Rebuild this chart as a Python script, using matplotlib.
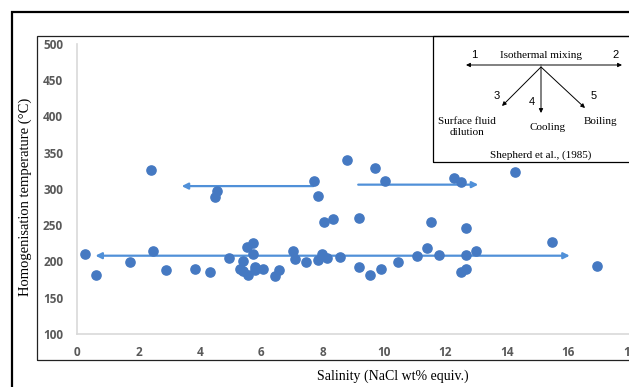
import matplotlib
matplotlib.use('Agg')
import matplotlib.pyplot as plt
from matplotlib.patches import Rectangle

# salinity (NaCl wt% equiv.) and homogenisation temperature (C)
salinity = [0.26, 0.62, 1.74, 2.40, 2.48, 2.90, 3.85, 4.34, 4.48, 4.57,
            4.96, 5.41, 5.32, 5.42, 5.56, 5.55, 5.72, 5.72, 5.80, 5.80,
            6.07, 6.45, 6.58, 7.03, 7.10, 7.45, 7.71, 7.85, 7.85, 7.99,
            8.14, 8.06, 8.35, 8.56, 8.80, 9.72, 10.03, 9.20, 9.20, 9.53,
            9.90, 10.47, 11.08, 11.39, 11.52, 11.80, 12.28, 12.50, 12.67, 12.67,
            12.50, 12.67, 13.01, 14.26, 15.47, 16.93]
temperature = [211, 182, 199, 326, 215, 188, 190, 186, 289, 297,
               205, 201, 190, 187, 181, 220, 225, 210, 193, 188,
               189, 180, 188, 215, 204, 199, 311, 290, 202, 211,
               205, 254, 258, 206, 340, 329, 311, 260, 192, 181,
               190, 199, 207, 218, 254, 209, 315, 310, 246, 209,
               186, 190, 214, 323, 227, 194]

# trend arrows: (x_start, x_end, y)
arrows = [(0.60, 16.05, 208), (7.70, 3.41, 304), (9.16, 13.07, 306)]

xticks = list(range(0, 19, 2))
yticks = list(range(100, 501, 50))

W, H = 629, 387
fig = plt.figure(figsize=(W / 100, H / 100), dpi=100)

# frames around the figure
fig.patches.append(Rectangle((12 / W, -0.1), 1.2, (H - 12) / H + 0.1, transform=fig.transFigure,
                             fill=False, lw=1.6, ec='black'))
fig.patches.append(Rectangle((37 / W, (H - 360) / H), 1.2, (360 - 36) / H, transform=fig.transFigure,
                             fill=False, lw=0.9, ec='#222222'))

ax = fig.add_axes([77 / W, (H - 334) / H, (629.6 - 77) / W, 290 / H])
ax.set_xlim(0, 18)
ax.set_ylim(100, 500)

for x0, x1, y in arrows:
    if x0 < 1:
        ax.annotate('', xy=(x0, y), xytext=(x1, y),
                    arrowprops=dict(arrowstyle='<|-|>', color='#5090d8', lw=1.6,
                                    mutation_scale=9, shrinkA=0, shrinkB=0))
    else:
        ax.annotate('', xy=(x1, y), xytext=(x0, y),
                    arrowprops=dict(arrowstyle='-|>', color='#5090d8', lw=1.6,
                                    mutation_scale=9, shrinkA=0, shrinkB=0))

ax.scatter(salinity, temperature, s=44, color='#4579c2', zorder=3, clip_on=False)

ax.set_xticks(xticks)
ax.set_yticks(yticks)
for s in ['top', 'right']:
    ax.spines[s].set_visible(False)
for s in ['left', 'bottom']:
    ax.spines[s].set_color('#d9d9d9')
    ax.spines[s].set_linewidth(1.2)
ax.tick_params(length=0, labelsize=8.5, labelcolor='#595959')
ax.tick_params(axis='y', pad=10)
ax.tick_params(axis='x', pad=9)
for lab in ax.get_xticklabels() + ax.get_yticklabels():
    lab.set_fontweight('bold')
    lab.set_family('Open Sans')

fig.text(25 / W, (H - 197) / H, 'Homogenisation temperature (°C)', rotation=90,
         ha='center', va='center', family='Liberation Serif', fontsize=10.5)
fig.text(393 / W, (H - 376) / H, 'Salinity (NaCl wt% equiv.)',
         ha='center', va='center', family='Liberation Serif', fontsize=10)

# inset diagram (Shepherd et al., 1985)
fig.patches.append(Rectangle((433 / W, (H - 162) / H), 0.5, 126 / H, transform=fig.transFigure,
                             fill=False, lw=0.9, ec='black', facecolor='white'))


def fp(x, y):
    return (x, H - y)


serif = 'Liberation Serif'
sans = 'Liberation Sans'
fig.text(541 / W, (H - 56) / H, 'Isothermal mixing', ha='center', va='center', family=serif, fontsize=8)
fig.text(474 / W, (H - 55) / H, '1', ha='center', va='center', family=sans, fontsize=8)
fig.text(616 / W, (H - 55) / H, '2', ha='center', va='center', family=sans, fontsize=8)
fig.text(497 / W, (H - 96) / H, '3', ha='center', va='center', family=sans, fontsize=8)
fig.text(532 / W, (H - 102) / H, '4', ha='center', va='center', family=sans, fontsize=8)
fig.text(594 / W, (H - 96) / H, '5', ha='center', va='center', family=sans, fontsize=8)
fig.text(467 / W, (H - 127) / H, 'Surface fluid\ndilution', ha='center', va='center',
         family=serif, fontsize=8, linespacing=1.2)
fig.text(548 / W, (H - 128) / H, 'Cooling', ha='center', va='center', family=serif, fontsize=8)
fig.text(601 / W, (H - 122) / H, 'Boiling', ha='center', va='center', family=serif, fontsize=8)
fig.text(541 / W, (H - 155) / H, 'Shepherd et al., (1985)', ha='center', va='center', family=serif, fontsize=8)

aprops = dict(arrowstyle='-|>', color='black', lw=0.7, mutation_scale=6, shrinkA=0, shrinkB=0)
for tip in [(466, 65), (622, 65)]:
    ax.annotate('', xy=fp(*tip), xytext=fp(541, 65), xycoords='figure pixels',
                textcoords='figure pixels', arrowprops=aprops)
for tip in [(502, 106), (541, 113), (585, 108)]:
    ax.annotate('', xy=fp(*tip), xytext=fp(541, 67), xycoords='figure pixels',
                textcoords='figure pixels', arrowprops=aprops)

fig.savefig('out.png', dpi=100)
